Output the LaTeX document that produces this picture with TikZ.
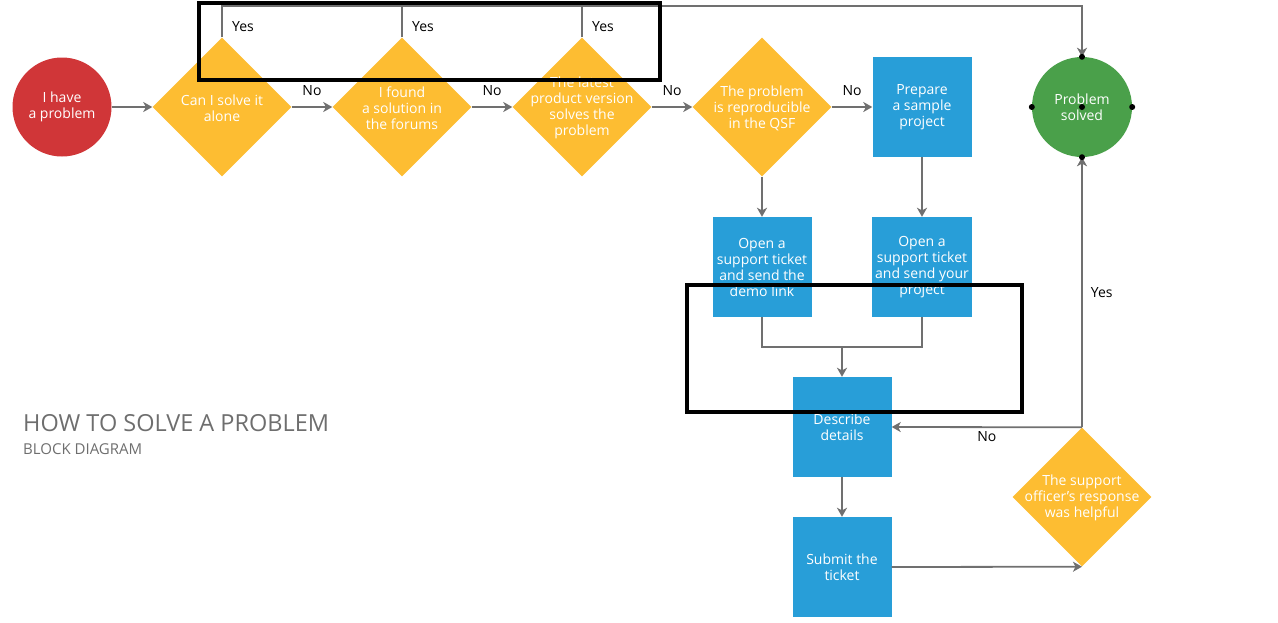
\documentclass[tikz,border=0pt]{standalone}
\usepackage{fontspec}
\setmainfont{Open Sans}
\usetikzlibrary{shapes.geometric,arrows.meta}
\definecolor{startred}{RGB}{208,54,56}
\definecolor{askyellow}{RGB}{253,189,50}
\definecolor{stepblue}{RGB}{40,158,216}
\definecolor{donegreen}{RGB}{74,160,74}
\definecolor{flowgray}{RGB}{112,112,112}
\definecolor{titlegray}{RGB}{110,110,110}
\tikzset{
  boxtext/.style={text=white, align=center, font=\fontsize{14}{16}\selectfont},
  ask/.style={diamond, fill=askyellow, inner sep=0pt, minimum width=139pt, minimum height=139pt},
  stepbox/.style={rectangle, fill=stepblue, minimum width=99pt, minimum height=100pt, boxtext},
  flow/.style={draw=flowgray, line width=1.8pt},
  lbl/.style={text=black, font=\fontsize{14}{16}\selectfont, inner sep=2pt}
}
\begin{document}
\begin{tikzpicture}[x=1pt, y=-1pt, >={Stealth[length=9pt,width=10pt,inset=2.5pt]}]
\useasboundingbox (0,0) rectangle (1278,622);
\node[circle, fill=startred, minimum size=99pt, boxtext] (start) at (62,107) {I have\\a problem};
\node[ask, label={[boxtext,yshift=-1pt]center:Can I solve it\\alone}] (alone) at (222,107) {};
\node[ask, label={[boxtext,yshift=-1pt]center:I found\\a solution in\\the forums}] (forums) at (402,107) {};
\node[ask, label={[boxtext,yshift=-1pt]center:The latest\\product version\\solves the\\problem}] (latest) at (582,107) {};
\node[ask, label={[boxtext,yshift=-1pt]center:The problem\\is reproducible\\in the QSF}] (qsf) at (762,107) {};
\node[stepbox] (sample) at (922,107) {Prepare\\a sample\\project};
\node[circle, fill=donegreen, minimum size=100pt, boxtext] (solved) at (1082,107) {Problem\\solved};
\node[stepbox] (ticketlink) at (762,267) {Open a\\support ticket\\and send the\\demo link};
\node[stepbox] (ticketproj) at (922,267) {Open a\\support ticket\\and send your\\project};
\node[stepbox] (details) at (842,427) {Describe\\details};
\node[stepbox] (submit) at (842,567) {Submit the\\ticket};
\node[ask, label={[boxtext,yshift=-1pt]center:The support\\officer's response\\was helpful}] (helpful) at (1082,497) {};
\node[anchor=base west, text=titlegray, font=\fontsize{23.5}{26}\selectfont, inner sep=0pt] (title) at (23,431) {HOW TO SOLVE A PROBLEM};
\node[anchor=base west, text=titlegray, font=\fontsize{15}{17}\selectfont, inner sep=0pt] (subtitle) at (23,454) {BLOCK DIAGRAM};
\coordinate (merge) at (842,347);

\draw[flow,->] (start) -- (alone);
\draw[flow,->] (alone) -- node[lbl, above=8pt] (no1) {No} (forums);
\draw[flow,->] (forums) -- node[lbl, above=8pt] (no2) {No} (latest);
\draw[flow,->] (latest) -- node[lbl, above=8pt] (no3) {No} (qsf);
\draw[flow,->] (qsf) -- node[lbl, above=8pt] (no4) {No} (sample);
\draw[flow,->] (alone.north) -- ++(0,-31) -| (solved.north);
\draw[flow] (forums.north) -- ++(0,-31);
\draw[flow] (latest.north) -- ++(0,-31);
\node[lbl, anchor=west] (yes1) at (230,27) {Yes};
\node[lbl, anchor=west] (yes2) at (410,27) {Yes};
\node[lbl, anchor=west] (yes3) at (590,27) {Yes};
\draw[flow,->] (qsf.south) -- (ticketlink.north);
\draw[flow,->] (sample.south) -- (ticketproj.north);
\draw[flow] (ticketlink.south) |- (merge) -| (ticketproj.south);
\draw[flow,->] (merge) -- (details.north);
\draw[flow,->] (details.south) -- (submit.north);
\draw[flow,->] (submit.east) -- (helpful.south);
\draw[flow,->] (helpful.north) -- node[lbl, right=6pt] (yes4) {Yes} (solved.south);
\draw[flow,->] (helpful.north) -- node[lbl, below=1pt] (no5) {No} (details.east);
% selection handles
\foreach \a in {north,south,east,west,center}
  \fill (solved.\a) circle (3pt);
% highlight frames
\draw[line width=4pt] (199,3) rectangle (660,80);
\draw[line width=4pt] (687,285) rectangle (1022,412);
\end{tikzpicture}
\end{document}
